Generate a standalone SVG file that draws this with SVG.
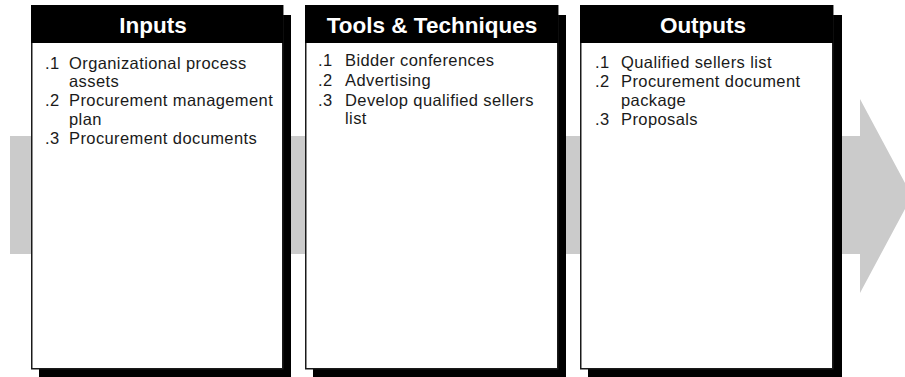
<svg xmlns="http://www.w3.org/2000/svg" width="905" height="377" viewBox="0 0 905 377">
<style>
.shadow{fill:#000}
.body{fill:#fff;stroke:#1a1a1a;stroke-width:1.5}
.head{fill:#000}
.title{font-family:"Liberation Sans",Arial,sans-serif;font-weight:bold;font-size:22.5px;fill:#fff;text-anchor:middle}
.item{font-family:"Liberation Sans",Arial,sans-serif;font-size:16.5px;letter-spacing:0.4px;fill:#1a1a1a}
</style>
<rect width="905" height="377" fill="#fff"/>
<g id="connectors">
<polygon points="10,136 860,136 860,99 912,196 860,293 860,254 10,254" fill="#cbcbcb"/>
</g>
<g id="inputs">
<rect class="shadow" x="39" y="15" width="252" height="362"/>
<rect class="body" x="31.75" y="5.75" width="251" height="363"/>
<rect class="head" x="31" y="5" width="252" height="38"/>
<text class="title" x="153" y="33">Inputs</text>
<text class="item" x="45" y="68.5">.1</text><text class="item" x="69" y="68.5">Organizational process<tspan x="69" dy="18.5">assets</tspan></text>
<text class="item" x="45" y="106">.2</text><text class="item" x="69" y="106">Procurement management<tspan x="69" dy="18.5">plan</tspan></text>
<text class="item" x="45" y="143.5">.3</text><text class="item" x="69" y="143.5">Procurement documents</text>
</g>
<g id="tools">
<rect class="shadow" x="313" y="15" width="253" height="362"/>
<rect class="body" x="305.75" y="5.75" width="252" height="363"/>
<rect class="head" x="305" y="5" width="253" height="38"/>
<text class="title" x="432" y="33">Tools &amp; Techniques</text>
<text class="item" x="318" y="66">.1</text><text class="item" x="345" y="66">Bidder conferences</text>
<text class="item" x="318" y="85.5">.2</text><text class="item" x="345" y="85.5">Advertising</text>
<text class="item" x="318" y="105.5">.3</text><text class="item" x="345" y="105.5">Develop qualified sellers<tspan x="345" dy="18.5">list</tspan></text>
</g>
<g id="outputs">
<rect class="shadow" x="588" y="15" width="254" height="362"/>
<rect class="body" x="580.75" y="5.75" width="252" height="363"/>
<rect class="head" x="580" y="5" width="253" height="38"/>
<text class="title" x="703" y="33">Outputs</text>
<text class="item" x="595" y="68">.1</text><text class="item" x="621" y="68">Qualified sellers list</text>
<text class="item" x="595" y="87">.2</text><text class="item" x="621" y="87">Procurement document<tspan x="621" dy="18.5">package</tspan></text>
<text class="item" x="595" y="124.5">.3</text><text class="item" x="621" y="124.5">Proposals</text>
</g>
</svg>
